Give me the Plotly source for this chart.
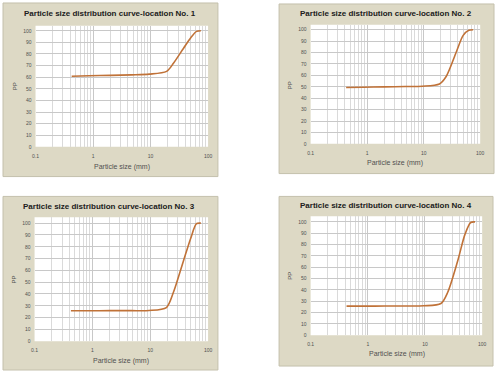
import plotly.graph_objects as go

# ---------------- data ----------------
sizes_mm = [0.425, 0.85, 2, 4.75, 9.5, 19, 25, 37.5, 50, 63, 75]
pp_loc1 = [60.8, 61.2, 61.6, 62.0, 62.6, 65.0, 72.0, 85.0, 94.0, 99.5, 100.0]
pp_loc2 = [49.3, 49.6, 49.9, 50.2, 50.5, 52.5, 59.0, 80.0, 95.0, 99.5, 100.0]
pp_loc3 = [25.8, 25.8, 25.9, 25.9, 26.0, 28.5, 41.0, 68.0, 87.0, 99.5, 100.0]
pp_loc4 = [25.7, 25.7, 25.8, 25.8, 26.0, 28.0, 38.0, 66.0, 89.0, 99.5, 100.0]
series = [pp_loc1, pp_loc2, pp_loc3, pp_loc4]
titles = ["Particle size distribution curve-location No. 1",
          "Particle size distribution curve-location No. 2",
          "Particle size distribution curve-location No. 3",
          "Particle size distribution curve-location No. 4"]
x_tick_vals = [0.1, 1, 10, 100]
x_tick_text = ["0.1", "1", "10", "100"]
y_tick_vals = [0, 10, 20, 30, 40, 50, 60, 70, 80, 90, 100]
x_title = "Particle size (mm)"
y_title = "PP"

# ---------------- layout geometry (pixels) ----------------
W, H = 498, 373
panels = [
    dict(px=(33, 208), py=(26, 148), ymax=104.3, box=(0, 218, 3, 178),
         title=(109, 14), xt=(121, 168), yt=(12, 87)),
    dict(px=(312, 484), py=(25, 145), ymax=104.3, box=(280, 498, 4, 175),
         title=(388, 14), xt=(398, 164), yt=(291, 86)),
    dict(px=(32, 208), py=(219, 344), ymax=105.0, box=(0, 218, 198, 373),
         title=(108, 208), xt=(120, 364), yt=(11, 282)),
    dict(px=(312, 486), py=(218, 338), ymax=105.0, box=(280, 497, 198, 369),
         title=(388, 207), xt=(400, 357), yt=(291, 278)),
]

def fx(p):
    return p / W

def fy(p):
    return 1 - p / H

BEIGE = "#DDD9C5"
LINE = "#C07238"
GRID_MAJ = "#C8C8C8"
GRID_MIN = "#DADADA"
TXT = "#505050"
FONT = "Liberation Sans, Arial, sans-serif"

fig = go.Figure()
layout = dict(width=W, height=H, margin=dict(l=0, r=0, t=0, b=0),
              paper_bgcolor="white", plot_bgcolor="white", showlegend=False,
              shapes=[], annotations=[])

for i, (pn, ys) in enumerate(zip(panels, series)):
    k = "" if i == 0 else str(i + 1)
    fig.add_trace(go.Scatter(x=sizes_mm, y=ys, mode="lines",
                             line=dict(color=LINE, width=1.6, shape="spline", smoothing=0.8),
                             xaxis="x" + k, yaxis="y" + k, hoverinfo="skip"))
    layout["xaxis" + k] = dict(
        domain=[fx(pn["px"][0]), fx(pn["px"][1])], anchor="y" + k, type="log",
        range=[-1, 2], tickvals=x_tick_vals, ticktext=x_tick_text,
        showgrid=True, gridcolor=GRID_MAJ, gridwidth=1,
        minor=dict(dtick="D1", showgrid=True, gridcolor=GRID_MIN, gridwidth=1),
        zeroline=False, showline=False, ticks="", ticklabelstandoff=5,
        tickfont=dict(size=5, color=TXT, family=FONT), fixedrange=True)
    layout["yaxis" + k] = dict(
        domain=[fy(pn["py"][1]), fy(pn["py"][0])], anchor="x" + k,
        range=[0, pn["ymax"]], tickvals=y_tick_vals,
        showgrid=True, gridcolor=GRID_MAJ, gridwidth=1,
        zeroline=False, showline=False, ticks="", ticklabelstandoff=3,
        tickfont=dict(size=5, color=TXT, family=FONT), fixedrange=True)
    bx0, bx1, by0, by1 = pn["box"]
    layout["shapes"].append(dict(type="rect", xref="paper", yref="paper",
                                 x0=fx(bx0), x1=fx(bx1), y0=fy(by1), y1=fy(by0),
                                 fillcolor=BEIGE, line=dict(color="#C4C0AC", width=1),
                                 layer="below"))
    layout["shapes"].append(dict(type="rect", xref="paper", yref="paper",
                                 x0=fx(pn["px"][0]), x1=fx(pn["px"][1]),
                                 y0=fy(pn["py"][1]), y1=fy(pn["py"][0]),
                                 fillcolor="white", line=dict(width=0),
                                 layer="below"))
    layout["annotations"].append(dict(text="<b>" + titles[i] + "</b>", xref="paper", yref="paper",
                                      x=fx(pn["title"][0]), y=fy(pn["title"][1]),
                                      xanchor="center", yanchor="middle", showarrow=False,
                                      font=dict(size=8, color="#202020", family=FONT)))
    layout["annotations"].append(dict(text=x_title, xref="paper", yref="paper",
                                      x=fx(pn["xt"][0]), y=fy(pn["xt"][1]),
                                      xanchor="center", yanchor="middle", showarrow=False,
                                      font=dict(size=7, color=TXT, family=FONT)))
    layout["annotations"].append(dict(text=y_title, xref="paper", yref="paper",
                                      x=fx(pn["yt"][0]), y=fy(pn["yt"][1]), textangle=-90,
                                      xanchor="center", yanchor="middle", showarrow=False,
                                      font=dict(size=6, color=TXT, family=FONT)))

fig.update_layout(**layout)
fig.write_html("out.html")
